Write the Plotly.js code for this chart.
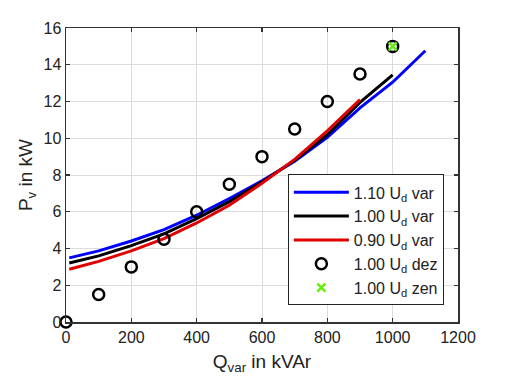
<!DOCTYPE html>
<html>
<head>
<meta charset="utf-8">
<script src="https://cdn.plot.ly/plotly-3.0.1.min.js"></script>
<style>html,body{margin:0;padding:0;background:#fff;}#chart{width:506px;height:380px;}</style>
</head>
<body>
<div id="chart"></div>
<script>
// Simulated curves (var)
const qBlue  = [10, 100, 200, 300, 400, 500, 600, 700, 800, 900, 1000, 1100];
const pBlue  = [3.49, 3.87, 4.41, 5.03, 5.81, 6.72, 7.68, 8.75, 10.05, 11.65, 13.05, 14.76];
const qBlack = [10, 100, 200, 300, 400, 500, 600, 700, 800, 900, 1000];
const pBlack = [3.21, 3.60, 4.16, 4.79, 5.63, 6.55, 7.62, 8.80, 10.20, 11.95, 13.45];
const qRed   = [10, 100, 200, 300, 400, 500, 600, 700, 800, 900];
const pRed   = [2.87, 3.30, 3.87, 4.54, 5.39, 6.35, 7.55, 8.85, 10.40, 12.10];
// Measured points (dez)
const qDez   = [0, 100, 200, 300, 400, 500, 600, 700, 800, 900, 1000];
const pDez   = [0, 1.5, 3.0, 4.5, 6.0, 7.5, 9.0, 10.5, 12.0, 13.5, 15.0];
// Central point (zen)
const qZen   = [1000];
const pZen   = [15.0];

const names = ['1.10 U<sub>d</sub> var', '1.00 U<sub>d</sub> var', '0.90 U<sub>d</sub> var', '1.00 U<sub>d</sub> dez', '1.00 U<sub>d</sub> zen'];
const xTicks = [0, 200, 400, 600, 800, 1000, 1200];
const yTicks = [0, 2, 4, 6, 8, 10, 12, 14, 16];

const font = {family: '"Liberation Sans", Arial, sans-serif', color: '#222'};

const traces = [
  {x: qBlue, y: pBlue, name: names[0], mode: 'lines', line: {color: '#0000ff', width: 3}},
  {x: qBlack, y: pBlack, name: names[1], mode: 'lines', line: {color: '#000000', width: 3}},
  {x: qRed, y: pRed, name: names[2], mode: 'lines', line: {color: '#e00000', width: 3}},
  {x: qDez, y: pDez, name: names[3], mode: 'markers', cliponaxis: false,
   marker: {symbol: 'circle-open', size: 11, color: '#000', line: {width: 2.5, color: '#000'}}},
  {x: qZen, y: pZen, name: names[4], mode: 'markers', cliponaxis: false,
   marker: {symbol: 'x-thin-open', size: 8, color: '#66ee11', line: {width: 2.5, color: '#66ee11'}}}
];

const axisCommon = {
  showline: true, linecolor: '#333', linewidth: 1.5, mirror: 'ticks',
  ticks: 'inside', ticklen: 4, tickwidth: 1.2, tickcolor: '#333',
  showgrid: true, gridcolor: '#dcdcdc', gridwidth: 1, zeroline: false,
  tickfont: {family: font.family, color: font.color, size: 16}
};

const layout = {
  width: 506, height: 380,
  margin: {l: 66, r: 48, t: 28, b: 58},
  paper_bgcolor: '#fff', plot_bgcolor: '#fff',
  font: font,
  showlegend: true,
  xaxis: Object.assign({}, axisCommon, {
    range: [0, 1200], tickvals: xTicks, ticktext: xTicks.map(String),
    title: {text: 'Q<sub>var</sub> in kVAr', font: {family: font.family, color: font.color, size: 19}, standoff: 10}
  }),
  yaxis: Object.assign({}, axisCommon, {
    range: [0, 16], tickvals: yTicks, ticktext: yTicks.map(String),
    title: {text: 'P<sub>v</sub> in kW', font: {family: font.family, color: font.color, size: 19}, standoff: 6}
  }),
  legend: {
    x: 0.566, y: 0.502, xanchor: 'left', yanchor: 'top',
    bgcolor: '#fff', bordercolor: '#222', borderwidth: 1,
    font: {family: font.family, color: font.color, size: 16},
    itemwidth: 55, tracegroupgap: 0
  }
};

Plotly.newPlot('chart', traces, layout, {staticPlot: true, displayModeBar: false});
</script>
</body>
</html>
